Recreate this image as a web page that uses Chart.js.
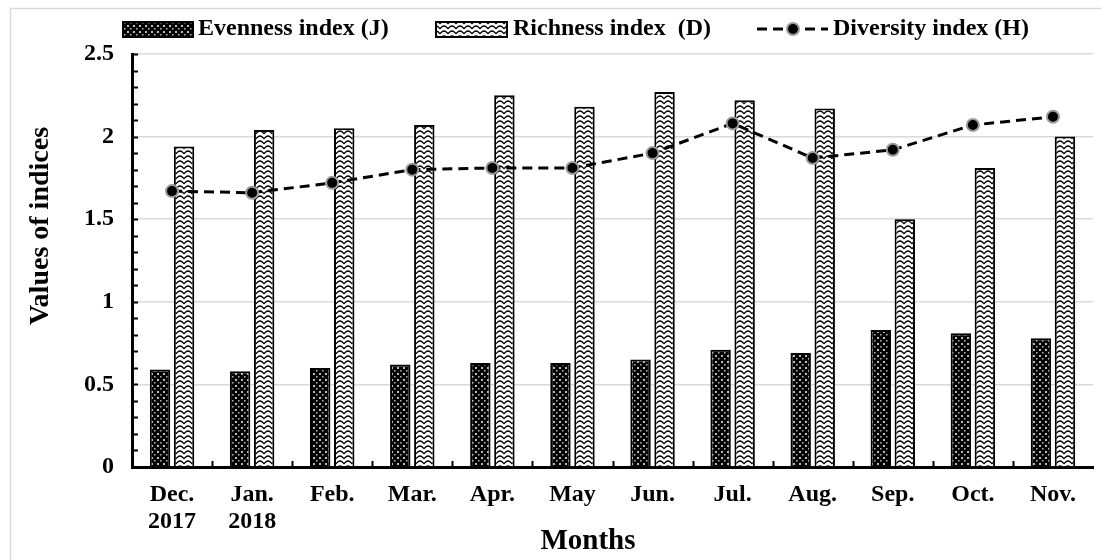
<!DOCTYPE html>
<html>
<head>
<meta charset="utf-8">
<script src="https://cdn.jsdelivr.net/npm/chart.js@4.4.1/dist/chart.umd.min.js"></script>
<style>
html,body{margin:0;padding:0;background:#fff;}
#wrap{width:1101px;height:560px;position:relative;}
</style>
</head>
<body>
<div id="wrap"><canvas id="c" width="1101" height="560"></canvas></div>
<script>
const months = [["Dec.","2017"],["Jan.","2018"],"Feb.","Mar.","Apr.","May","Jun.","Jul.","Aug.","Sep.","Oct.","Nov."];
const evenness = [0.59,0.58,0.60,0.62,0.63,0.63,0.65,0.71,0.69,0.83,0.81,0.78];
const richness = [1.94,2.04,2.05,2.07,2.25,2.18,2.27,2.22,2.17,1.50,1.81,2.00];
const diversity = [1.67,1.66,1.72,1.80,1.81,1.81,1.90,2.08,1.87,1.92,2.07,2.12];
const yTicks = [0,0.5,1,1.5,2,2.5];
const legendLabels = ["Evenness index (J)","Richness index  (D)","Diversity index (H)"];
const xTitle = "Months";
const yTitle = "Values of indices";

const FONT = "'Liberation Serif','Times New Roman',serif";

function dotPattern(){
  const c=document.createElement('canvas');c.width=6;c.height=6;
  const x=c.getContext('2d');
  x.fillStyle='#000';x.fillRect(0,0,6,6);
  x.fillStyle='#bbbbbb';
  x.fillRect(1,1,2,2);x.fillRect(4,4,1.5,1.5);
  return x.createPattern(c,'repeat');
}
function wavePattern(){
  const c=document.createElement('canvas');c.width=8;c.height=5;
  const x=c.getContext('2d');
  x.fillStyle='#fff';x.fillRect(0,0,8,5);
  x.strokeStyle='#000';x.lineWidth=1.4;
  x.beginPath();x.moveTo(-1,4.5);x.lineTo(2,1.8);x.quadraticCurveTo(4,0,6,1.8);x.lineTo(9,4.5);x.stroke();
  return x.createPattern(c,'repeat');
}
const dots = dotPattern();
const waves = wavePattern();

const decor = {
  id:'decor',
  beforeDraw(chart){
    const ctx=chart.ctx;
    ctx.save();
    ctx.strokeStyle='#d9d9d9';ctx.lineWidth=1.5;
    ctx.strokeRect(10.5,8.5,1200,700);
    ctx.restore();
  },
  afterDatasetsDraw(chart){
    const ctx=chart.ctx, y=chart.scales.y, x=chart.scales.x, a=chart.chartArea;
    ctx.save();
    ctx.strokeStyle='#000';ctx.lineWidth=2;
    for(let v=0; v<=2.5001; v+=0.1){
      const py=Math.round(y.getPixelForValue(v))+0.5;
      ctx.beginPath();ctx.moveTo(a.left,py);ctx.lineTo(a.left+6,py);ctx.stroke();
    }
    const n=months.length, w=(a.right-a.left)/n;
    for(let i=1;i<n;i++){
      const px=Math.round(x.getPixelForValue(i)-w/2)+0.5;
      ctx.beginPath();ctx.moveTo(px,a.bottom);ctx.lineTo(px,a.bottom-6);ctx.stroke();
    }
    ctx.restore();
  },
  afterDraw(chart){
    const ctx=chart.ctx;
    ctx.save();
    ctx.font="bold 24px "+FONT;
    ctx.fillStyle='#000';ctx.textBaseline='middle';ctx.textAlign='left';
    const cy=29;
    ctx.fillStyle=dots;ctx.fillRect(123,22,70,15);
    ctx.strokeStyle='#000';ctx.lineWidth=2;ctx.strokeRect(123,22,70,15);
    ctx.fillStyle='#000';ctx.fillText(legendLabels[0],198,cy);
    ctx.fillStyle=waves;ctx.fillRect(436,22,71,15);
    ctx.strokeRect(436,22,71,15);
    ctx.fillStyle='#000';ctx.fillText(legendLabels[1],513,cy);
    ctx.setLineDash([10,6]);ctx.lineWidth=3;
    ctx.beginPath();ctx.moveTo(757,cy);ctx.lineTo(828,cy);ctx.stroke();
    ctx.setLineDash([]);
    ctx.beginPath();ctx.arc(793,cy,6,0,Math.PI*2);ctx.fillStyle='#000';ctx.fill();
    ctx.strokeStyle='#9a9a9a';ctx.lineWidth=2;ctx.stroke();
    ctx.fillStyle='#000';ctx.fillText(legendLabels[2],833,cy);
    ctx.textAlign='center';
    ctx.font="bold 29px "+FONT;
    ctx.fillText(xTitle,588,542);
    ctx.font="bold 28px "+FONT;
    ctx.translate(41,226);ctx.rotate(-Math.PI/2);
    ctx.fillText(yTitle,0,0);
    ctx.restore();
  }
};

new Chart(document.getElementById('c'),{
  data:{
    labels:months,
    datasets:[
      {type:'line',label:legendLabels[2],data:diversity,order:0,
       borderColor:'#000',borderWidth:3,borderDash:[10,6],fill:false,tension:0,
       pointRadius:6,pointBackgroundColor:'#000',pointBorderColor:'#9a9a9a',pointBorderWidth:2},
      {type:'bar',label:legendLabels[0],data:evenness,order:1,
       backgroundColor:dots,borderColor:'#000',borderWidth:2,
       categoryPercentage:0.6,barPercentage:0.85},
      {type:'bar',label:legendLabels[1],data:richness,order:2,
       backgroundColor:waves,borderColor:'#000',borderWidth:2,
       categoryPercentage:0.6,barPercentage:0.85}
    ]
  },
  options:{
    responsive:false,animation:false,
    layout:{padding:{top:54,right:-9,left:0,bottom:0}},
    plugins:{legend:{display:false},tooltip:{enabled:false}},
    scales:{
      x:{
        grid:{display:false,drawTicks:false},
        border:{color:'#000',width:3},
        ticks:{color:'#000',font:{family:FONT,size:24,weight:'bold',lineHeight:1.1},padding:15,maxRotation:0,autoSkip:false},
        title:{display:false,text:xTitle},
        afterFit(s){s.height=93;}
      },
      y:{
        min:0,max:2.5,
        afterBuildTicks(s){s.ticks=yTicks.map(v=>({value:v}));},
        grid:{color:'#d9d9d9',lineWidth:1.5,drawTicks:false},
        border:{color:'#000',width:3},
        ticks:{color:'#000',font:{family:FONT,size:24,weight:'bold'},padding:18,callback:v=>String(v)},
        title:{display:false,text:yTitle},
        afterFit(s){s.width=132;}
      }
    }
  },
  plugins:[decor]
});
</script>
</body>
</html>
